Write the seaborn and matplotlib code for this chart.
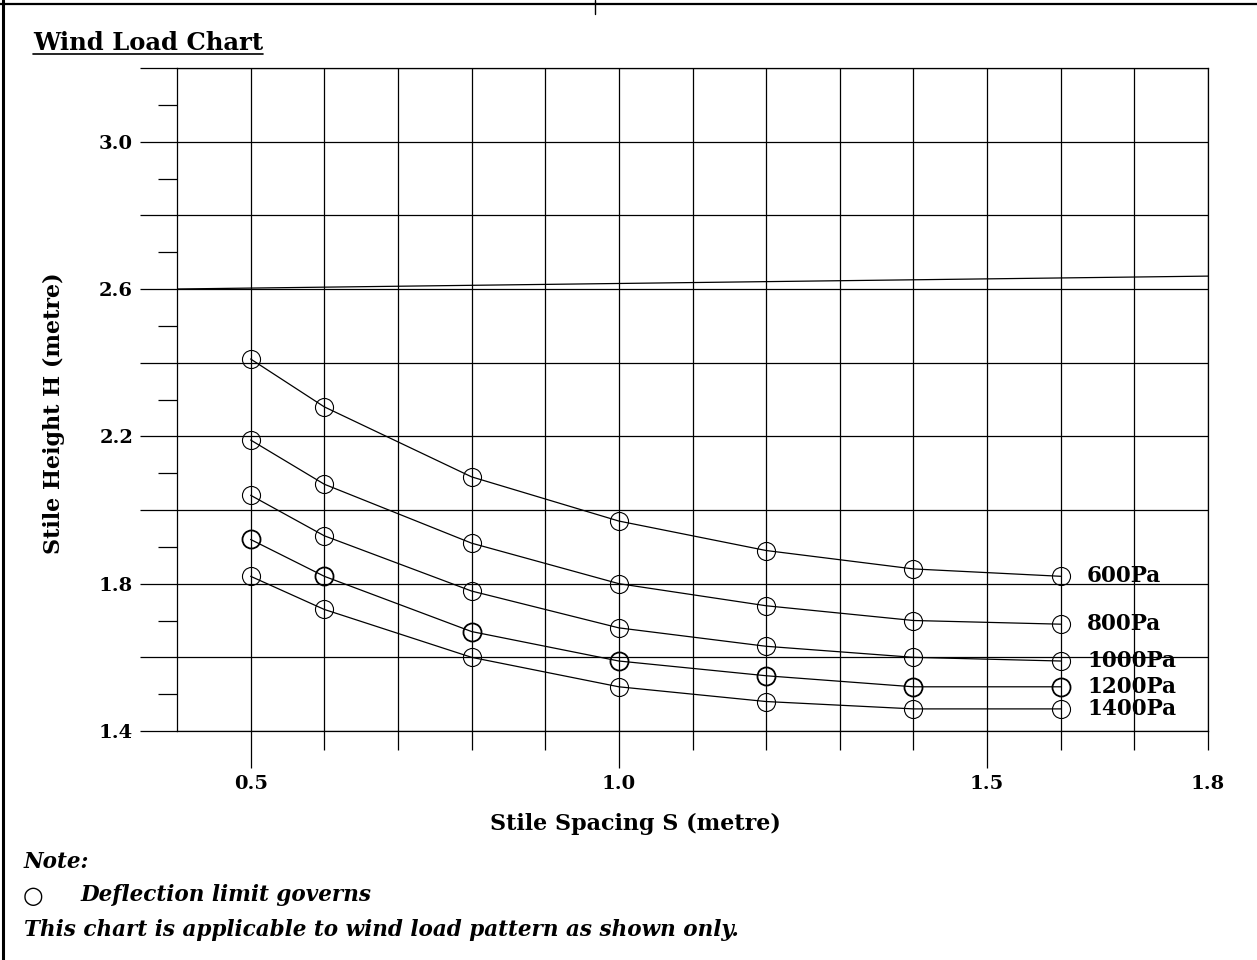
import numpy as np
import pandas as pd
import matplotlib
matplotlib.use('Agg')
import matplotlib.pyplot as plt
from matplotlib.lines import Line2D
import seaborn as sns

# Stile spacing S (metre) where the curves were evaluated
spacing = [0.5, 0.6, 0.8, 1.0, 1.2, 1.4, 1.6]

# Stile height H (metre) for each wind load
h_600 = [2.41, 2.28, 2.09, 1.97, 1.89, 1.84, 1.82]
h_800 = [2.19, 2.07, 1.91, 1.80, 1.74, 1.70, 1.69]
h_1000 = [2.04, 1.93, 1.78, 1.68, 1.63, 1.60, 1.59]
h_1200 = [1.92, 1.82, 1.67, 1.59, 1.55, 1.52, 1.52]
h_1400 = [1.82, 1.73, 1.60, 1.52, 1.48, 1.46, 1.46]
load_labels = ['600Pa', '800Pa', '1000Pa', '1200Pa', '1400Pa']

# upper limit line across the chart
limit_x = [0.4, 1.8]
limit_h = [2.60, 2.635]

x_major = [0.5, 1.0, 1.5, 1.8]
x_major_labels = ['0.5', '1.0', '1.5', '1.8']
x_minor = [0.6, 0.7, 0.8, 0.9, 1.1, 1.2, 1.3, 1.4, 1.6, 1.7]
y_major = [1.4, 1.6, 1.8, 2.0, 2.2, 2.4, 2.6, 2.8, 3.0, 3.2]
y_major_labels = ['1.4', '', '1.8', '', '2.2', '', '2.6', '', '3.0', '']
y_minor = [1.5, 1.7, 1.9, 2.1, 2.3, 2.5, 2.7, 2.9, 3.1]

rows = []
for lab, vals in zip(load_labels, [h_600, h_800, h_1000, h_1200, h_1400]):
    for s, h in zip(spacing, vals):
        rows.append({'S': s, 'H': h, 'load': lab})
df = pd.DataFrame(rows)

sns.set_style('white')
plt.rcParams['font.family'] = ['DejaVu Serif', 'DejaVu Sans']
plt.rcParams['text.color'] = 'black'
plt.rcParams['axes.labelcolor'] = 'black'
plt.rcParams['xtick.color'] = 'black'
plt.rcParams['ytick.color'] = 'black'

fig = plt.figure(figsize=(12.57, 9.6), dpi=100)
ax = fig.add_axes([177 / 1257, 1 - 731 / 960, (1208 - 177) / 1257, (731 - 68) / 960])

# limit line
sns.lineplot(x=limit_x, y=limit_h, ax=ax, color='black', lw=0.9)

for lab in load_labels:
    sub = df[df['load'] == lab]
    mew = 1.3 if lab == '1200Pa' else 0.8
    sns.lineplot(data=sub, x='S', y='H', ax=ax, color='black', lw=0.9,
                 marker='o', markersize=13, markerfacecolor='none',
                 markeredgecolor='black', markeredgewidth=mew, sort=False)
    ax.annotate(lab, xy=(sub['S'].iloc[-1], sub['H'].iloc[-1]),
                xytext=(19, 0), textcoords='offset points',
                va='center', ha='left', fontsize=15.5, fontweight='bold')

ax.set_xlim(0.4, 1.8)
ax.set_ylim(1.4, 3.2)
ax.set_xticks(x_major)
ax.set_xticklabels(x_major_labels, fontweight='bold')
ax.set_xticks(x_minor, minor=True)
ax.set_yticks(y_major)
ax.set_yticklabels(y_major_labels, fontweight='bold')
ax.set_yticks(y_minor, minor=True)

ax.grid(True, which='both', axis='x', color='black', lw=0.9)
ax.grid(True, which='major', axis='y', color='black', lw=0.9)
ax.set_axisbelow(True)
for sp in ax.spines.values():
    sp.set_color('black')
    sp.set_linewidth(0.9)

ax.tick_params(axis='both', which='both', bottom=True, left=True, top=False, right=False)
ax.tick_params(axis='both', which='major', length=26.6, width=0.9, color='black',
               labelsize=14, pad=5, direction='out')
ax.tick_params(axis='both', which='minor', length=13.7, width=0.9, color='black',
               direction='out')
ax.xaxis.get_major_ticks()[-1].tick1line.set_markersize(13.7)

ax.set_xlabel('Stile Spacing S (metre)', fontsize=16, fontweight='bold')
ax.set_ylabel('Stile Height H (metre)', fontsize=16, fontweight='bold')
ax.xaxis.set_label_coords((635 - 177) / 1031, (731 - 813) / 663)
ax.yaxis.set_label_coords((65 - 177) / 1031, (731 - 413) / 663)

# title with underline
title = fig.text(33 / 1257, 1 - 50 / 960, 'Wind Load Chart', fontsize=17.5,
                 fontweight='bold', ha='left', va='baseline')
fig.canvas.draw()
bb = title.get_window_extent().transformed(fig.transFigure.inverted())
fig.add_artist(Line2D([bb.x0, bb.x1], [1 - 54 / 960] * 2, color='black', lw=1.2))

# page frame
fig.add_artist(Line2D([3 / 1257] * 2, [0, 1], color='black', lw=2.2))
fig.add_artist(Line2D([0, 1], [1 - 4 / 960] * 2, color='black', lw=1.6))
fig.add_artist(Line2D([595 / 1257] * 2, [1, 1 - 14 / 960], color='black', lw=1.0))

# notes
note_kw = dict(fontsize=15.5, style='italic', fontweight='bold', va='center')
fig.text(24 / 1257, 1 - 862 / 960, 'Note:', **note_kw)
fig.text(23 / 1257, 1 - 896 / 960, '\u25cb', fontsize=17, va='center',
         family=['DejaVu Sans'])
fig.text(80 / 1257, 1 - 895 / 960, 'Deflection limit governs', **note_kw)
fig.text(24 / 1257, 1 - 930 / 960,
         'This chart is applicable to wind load pattern as shown only.', **note_kw)

fig.savefig('out.png', dpi=100)
